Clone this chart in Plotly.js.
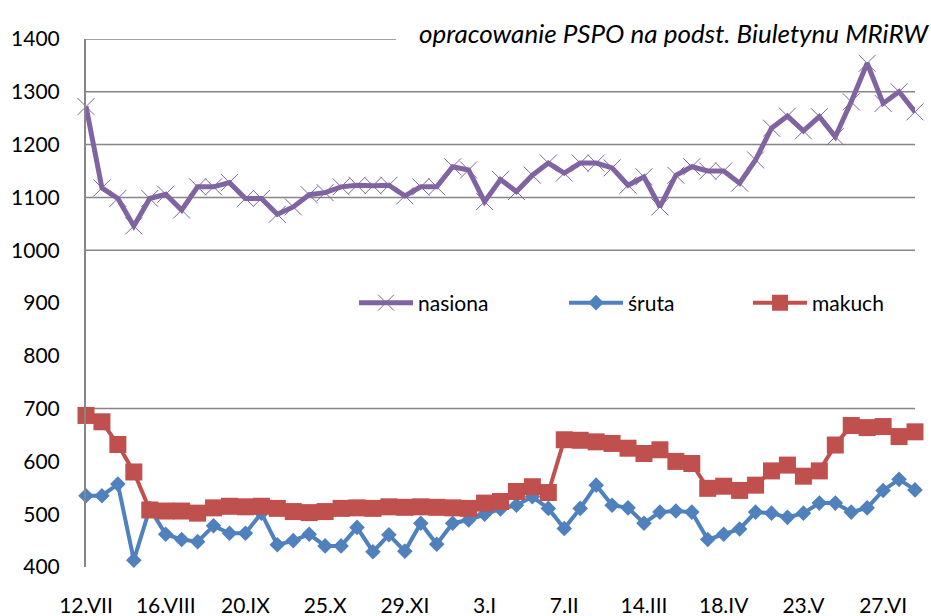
<!DOCTYPE html>
<html>
<head>
<meta charset="utf-8">
<script src="https://cdn.plot.ly/plotly-3.0.1.min.js"></script>
<style>html,body{margin:0;padding:0;background:#fff;}#chart{width:931px;height:616px;}</style>
</head>
<body>
<div id="chart"></div>
<script>
// weekly data, 53 weeks starting 12.VII
const tickLabels = ['12.VII','16.VIII','20.IX','25.X','29.XI','3.I','7.II','14.III','18.IV','23.V','27.VI'];
const nasiona = [1272,1118,1098,1046,1098,1106,1076,1120,1120,1128,1098,1098,1068,1082,1105,1109,1120,1123,
  1122,1123,1103,1120,1120,1158,1152,1092,1134,1111,1142,1165,1146,1165,1165,1156,1123,
  1139,1082,1142,1158,1150,1150,1127,1171,1231,1254,1226,1253,1215,1281,1354,1278,1300,1262];
const sruta = [535,535,557,413,511,462,452,448,478,464,464,502,442,450,462,440,440,475,
  429,461,430,483,443,483,489,500,510,517,533,511,473,511,555,517,512,
  483,504,506,504,452,462,472,504,502,494,502,521,521,504,512,545,566,546];
const makuch = [687,675,632,580,508,506,506,502,512,515,514,515,511,505,503,505,511,512,
  511,514,513,514,513,512,511,521,524,543,552,541,641,640,637,634,625,
  615,622,600,596,549,553,545,555,582,593,572,582,631,668,664,666,647,656];
const gridVals = [700,1000,1100,1200,1300,1400];
const yTicks = [400,500,600,700,800,900,1000,1100,1200,1300,1400];

const xIdx = nasiona.map((_, i) => i);
const tickPos = tickLabels.map((_, i) => i * 5);

const FONT = 'Lato, "Open Sans", sans-serif';

const traces = [
  {x: xIdx, y: nasiona, name: 'nasiona', type: 'scatter', mode: 'lines+markers', legend: 'legend',
   line: {color: '#8064A2', width: 5},
   marker: {symbol: 'x-thin', size: 17, color: '#8064A2', line: {color: '#8064A2', width: 1}}, cliponaxis: false},
  {x: xIdx, y: sruta, name: 'śruta', type: 'scatter', mode: 'lines+markers', legend: 'legend2',
   line: {color: '#4F81BD', width: 4},
   marker: {symbol: 'diamond', size: 12, color: '#4F81BD'}, cliponaxis: false},
  {x: xIdx, y: makuch, name: 'makuch', type: 'scatter', mode: 'lines+markers', legend: 'legend3',
   line: {color: '#C0504D', width: 4},
   marker: {symbol: 'square', size: 17, color: '#C0504D'}, cliponaxis: false}
];

const legBase = {orientation: 'h', yanchor: 'middle', y: 0.5, xanchor: 'left',
  bgcolor: 'rgba(0,0,0,0)', borderwidth: 0, font: {family: FONT, size: 21, color: '#000'}, itemwidth: 54};

const layout = {
  width: 931, height: 616,
  margin: {l: 86, r: 16, t: 39, b: 49},
  paper_bgcolor: '#fff', plot_bgcolor: '#fff',
  showlegend: true,
  legend: Object.assign({}, legBase, {x: 0.3233}),
  legend2: Object.assign({}, legBase, {x: 0.5766}),
  legend3: Object.assign({}, legBase, {x: 0.7986}),
  xaxis: {range: [0, 52], tickvals: tickPos, ticktext: tickLabels, showgrid: false, zeroline: false,
    showline: false, ticks: '', ticklabelstandoff: 24, tickfont: {family: FONT, size: 21, color: '#000'}},
  yaxis: {range: [400, 1400], tickvals: yTicks, showgrid: false, zeroline: false,
    showline: true, linecolor: '#868686', linewidth: 2, ticks: '', ticklabelstandoff: 20,
    tickfont: {family: FONT, size: 21, color: '#000'}},
  shapes: gridVals.map(v => ({type: 'line', xref: 'paper', x0: 0, x1: v === 1400 ? 0.374 : 1, yref: 'y', y0: v, y1: v,
    line: {color: '#868686', width: 1.5}, layer: 'below'})),
  annotations: [{
    text: '<i>opracowanie PSPO na podst. Biuletynu MRiRW</i>',
    xref: 'paper', yref: 'paper', x: 1.0175, y: 1.011, xanchor: 'right', yanchor: 'middle',
    showarrow: false, borderpad: 0,
    font: {family: FONT, size: 26, color: '#000'}
  }]
};

Plotly.newPlot('chart', traces, layout, {displayModeBar: false, staticPlot: true});
</script>
</body>
</html>
